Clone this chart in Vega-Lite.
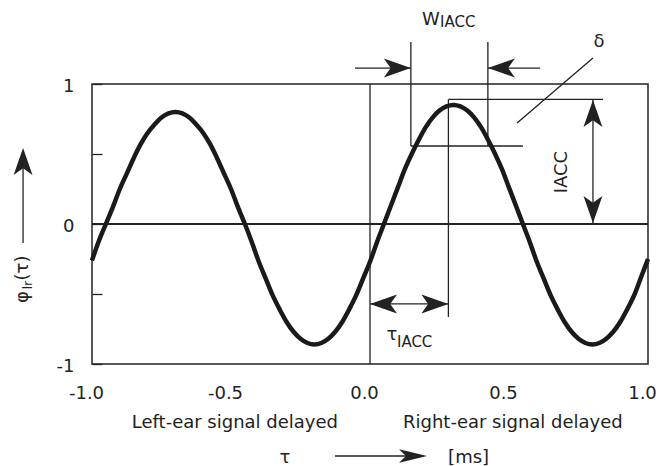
{
  "$schema": "https://vega.github.io/schema/vega-lite/v6.json",
  "width": 556,
  "height": 280,
  "autosize": {"type": "none"},
  "padding": {"left": 92, "top": 84, "right": 10, "bottom": 102},
  "background": "white",
  "config": {
    "view": {"stroke": "#222", "strokeWidth": 1.5},
    "font": "DejaVu Sans",
    "text": {"font": "DejaVu Sans", "color": "#222"}
  },
  "datasets": {
    "curve": [
      {"x": -1.000, "y": -0.26}, {"x": -0.975, "y": -0.12}, {"x": -0.950, "y": 0.00}, {"x": -0.925, "y": 0.12},
      {"x": -0.900, "y": 0.25}, {"x": -0.875, "y": 0.36}, {"x": -0.850, "y": 0.47}, {"x": -0.825, "y": 0.57},
      {"x": -0.800, "y": 0.65}, {"x": -0.775, "y": 0.71}, {"x": -0.750, "y": 0.76}, {"x": -0.725, "y": 0.79},
      {"x": -0.700, "y": 0.80}, {"x": -0.675, "y": 0.79}, {"x": -0.650, "y": 0.76}, {"x": -0.625, "y": 0.71},
      {"x": -0.600, "y": 0.65}, {"x": -0.575, "y": 0.57}, {"x": -0.550, "y": 0.47}, {"x": -0.525, "y": 0.36},
      {"x": -0.500, "y": 0.25}, {"x": -0.475, "y": 0.12}, {"x": -0.450, "y": 0.00}, {"x": -0.425, "y": -0.13},
      {"x": -0.400, "y": -0.27}, {"x": -0.375, "y": -0.39}, {"x": -0.350, "y": -0.51}, {"x": -0.325, "y": -0.61},
      {"x": -0.300, "y": -0.70}, {"x": -0.275, "y": -0.77}, {"x": -0.250, "y": -0.82}, {"x": -0.225, "y": -0.85},
      {"x": -0.200, "y": -0.86}, {"x": -0.175, "y": -0.85}, {"x": -0.150, "y": -0.82}, {"x": -0.125, "y": -0.77},
      {"x": -0.100, "y": -0.70}, {"x": -0.075, "y": -0.61}, {"x": -0.050, "y": -0.51}, {"x": -0.025, "y": -0.39},
      {"x": 0.000, "y": -0.27}, {"x": 0.025, "y": -0.13}, {"x": 0.050, "y": 0.00}, {"x": 0.075, "y": 0.13},
      {"x": 0.100, "y": 0.26}, {"x": 0.125, "y": 0.39}, {"x": 0.150, "y": 0.50}, {"x": 0.175, "y": 0.60},
      {"x": 0.200, "y": 0.69}, {"x": 0.225, "y": 0.76}, {"x": 0.250, "y": 0.81}, {"x": 0.275, "y": 0.84},
      {"x": 0.300, "y": 0.85}, {"x": 0.325, "y": 0.84}, {"x": 0.350, "y": 0.81}, {"x": 0.375, "y": 0.76},
      {"x": 0.400, "y": 0.69}, {"x": 0.425, "y": 0.60}, {"x": 0.450, "y": 0.50}, {"x": 0.475, "y": 0.39},
      {"x": 0.500, "y": 0.26}, {"x": 0.525, "y": 0.13}, {"x": 0.550, "y": 0.00}, {"x": 0.575, "y": -0.13},
      {"x": 0.600, "y": -0.27}, {"x": 0.625, "y": -0.39}, {"x": 0.650, "y": -0.51}, {"x": 0.675, "y": -0.61},
      {"x": 0.700, "y": -0.70}, {"x": 0.725, "y": -0.77}, {"x": 0.750, "y": -0.82}, {"x": 0.775, "y": -0.85},
      {"x": 0.800, "y": -0.86}, {"x": 0.825, "y": -0.85}, {"x": 0.850, "y": -0.82}, {"x": 0.875, "y": -0.77},
      {"x": 0.900, "y": -0.70}, {"x": 0.925, "y": -0.61}, {"x": 0.950, "y": -0.51}, {"x": 0.975, "y": -0.38},
      {"x": 1.000, "y": -0.25}
    ],
    "zero": [{"x": -1, "y": 0, "x2": 1, "y2": 0}],
    "thin": [
      {"x": 0, "y": -1, "x2": 0, "y2": 1},
      {"x": 0.282, "y": 0.89, "x2": 0.838, "y2": 0.89},
      {"x": 0.282, "y": 0.89, "x2": 0.282, "y2": -0.664},
      {"x": 0, "y": -0.571, "x2": 0.282, "y2": -0.571},
      {"x": 0.147, "y": 1.3, "x2": 0.147, "y2": 0.557},
      {"x": 0.424, "y": 1.3, "x2": 0.424, "y2": 0.557},
      {"x": 0.147, "y": 0.557, "x2": 0.55, "y2": 0.557},
      {"x": -0.054, "y": 1.114, "x2": 0.147, "y2": 1.114},
      {"x": 0.612, "y": 1.114, "x2": 0.424, "y2": 1.114},
      {"x": 0.802, "y": 0.886, "x2": 0.802, "y2": 0.007},
      {"x": 0.802, "y": 1.186, "x2": 0.529, "y2": 0.721},
      {"x": -1.248, "y": -0.136, "x2": -1.248, "y2": 0.52},
      {"x": -0.126, "y": -1.657, "x2": 0.19, "y2": -1.657}
    ],
    "headRight": [{"x": 0.147, "y": 1.114}, {"x": 0.282, "y": -0.571}],
    "headLeft": [{"x": 0.424, "y": 1.114}, {"x": 0, "y": -0.571}],
    "headUp": [{"x": 0.802, "y": 0.886}, {"x": -1.248, "y": 0.543}],
    "headDown": [{"x": 0.802, "y": 0.007}],
    "headBottom": [{"x": 0.205, "y": -1.657}],
    "textMain": [
      {"x": -0.486, "y": -1.457, "label": "Left-ear signal delayed"},
      {"x": 0.514, "y": -1.457, "label": "Right-ear signal delayed"},
      {"x": -0.306, "y": -1.707, "label": "τ"},
      {"x": 0.219, "y": 1.421, "label": "W"},
      {"x": 0.824, "y": 1.264, "label": "δ"},
      {"x": 0.079, "y": -0.829, "label": "τ"}
    ],
    "textLeft": [{"x": 0.281, "y": -1.707, "label": "[ms]"}],
    "textSub": [
      {"x": 0.252, "y": 1.407, "label": "IACC"},
      {"x": 0.097, "y": -0.879, "label": "IACC"}
    ],
    "textRot": [
      {"x": 0.691, "y": 0.371, "label": "IACC"},
      {"x": -1.248, "y": -0.521, "label": "φ"},
      {"x": -1.248, "y": -0.314, "label": "(τ)"}
    ],
    "textRotSub": [{"x": -1.232, "y": -0.436, "label": "lr"}]
  },
  "encoding": {
    "x": {
      "field": "x", "type": "quantitative",
      "scale": {"domain": [-1, 1], "nice": false, "zero": false},
      "axis": {
        "title": null, "values": [-1, -0.5, 0, 0.5, 1], "ticks": false, "domain": false, "grid": false,
        "labelExpr": "replace(format(datum.value, '.1f'), '\u2212', '-')",
        "labelFont": "DejaVu Sans", "labelFontSize": 18, "labelColor": "#222",
        "labelPadding": 20, "labelFlush": false, "labelOverlap": false, "labelOffset": -6
      }
    },
    "y": {
      "field": "y", "type": "quantitative",
      "scale": {"domain": [-1, 1], "nice": false, "zero": false},
      "axis": {
        "title": null, "values": [-1, -0.5, 0, 0.5, 1], "domain": false, "grid": false,
        "ticks": true, "tickSize": -10, "tickColor": "#222", "tickWidth": 1.3,
        "labelExpr": "datum.value == 1 ? '1' : datum.value == 0 ? '0' : datum.value == -1 ? '-1' : ''",
        "labelFont": "DejaVu Sans", "labelFontSize": 18, "labelColor": "#222",
        "labelPadding": 28, "labelFlush": false, "labelOverlap": false, "labelOffset": 2
      }
    }
  },
  "layer": [
    {"data": {"name": "zero"}, "mark": {"type": "rule", "color": "#222", "strokeWidth": 2}, "encoding": {"x2": {"field": "x2"}, "y2": {"field": "y2"}}},
    {"data": {"name": "thin"}, "mark": {"type": "rule", "color": "#222", "strokeWidth": 1.3}, "encoding": {"x2": {"field": "x2"}, "y2": {"field": "y2"}}},
    {"data": {"name": "curve"}, "mark": {"type": "line", "color": "#1a1a1a", "strokeWidth": 4.5, "interpolate": "monotone", "strokeJoin": "round"}, "encoding": {}},
    {"data": {"name": "headRight"}, "mark": {"type": "point", "shape": "M0,0 L-2,-0.7 L-1.5,0 L-2,0.7 Z", "size": 729, "filled": true, "color": "#222", "opacity": 1}, "encoding": {}},
    {"data": {"name": "headLeft"}, "mark": {"type": "point", "shape": "M0,0 L2,-0.7 L1.5,0 L2,0.7 Z", "size": 729, "filled": true, "color": "#222", "opacity": 1}, "encoding": {}},
    {"data": {"name": "headUp"}, "mark": {"type": "point", "shape": "M0,0 L-0.7,2 L0,1.5 L0.7,2 Z", "size": 729, "filled": true, "color": "#222", "opacity": 1}, "encoding": {}},
    {"data": {"name": "headDown"}, "mark": {"type": "point", "shape": "M0,0 L-0.7,-2 L0,-1.5 L0.7,-2 Z", "size": 729, "filled": true, "color": "#222", "opacity": 1}, "encoding": {}},
    {"data": {"name": "headBottom"}, "mark": {"type": "point", "shape": "M0,0 L-2,-0.48 L-1.5,0 L-2,0.48 Z", "size": 784, "filled": true, "color": "#222", "opacity": 1}, "encoding": {}},
    {"data": {"name": "textMain"}, "mark": {"type": "text", "fontSize": 18, "align": "center", "baseline": "alphabetic"}, "encoding": {"text": {"field": "label"}}},
    {"data": {"name": "textLeft"}, "mark": {"type": "text", "fontSize": 18, "align": "left", "baseline": "alphabetic"}, "encoding": {"text": {"field": "label"}}},
    {"data": {"name": "textSub"}, "mark": {"type": "text", "fontSize": 15, "align": "left", "baseline": "alphabetic"}, "encoding": {"text": {"field": "label"}}},
    {"data": {"name": "textRot"}, "mark": {"type": "text", "fontSize": 18, "align": "center", "baseline": "middle", "angle": 270}, "encoding": {"text": {"field": "label"}}},
    {"data": {"name": "textRotSub"}, "mark": {"type": "text", "fontSize": 13, "align": "center", "baseline": "middle", "angle": 270}, "encoding": {"text": {"field": "label"}}}
  ]
}
